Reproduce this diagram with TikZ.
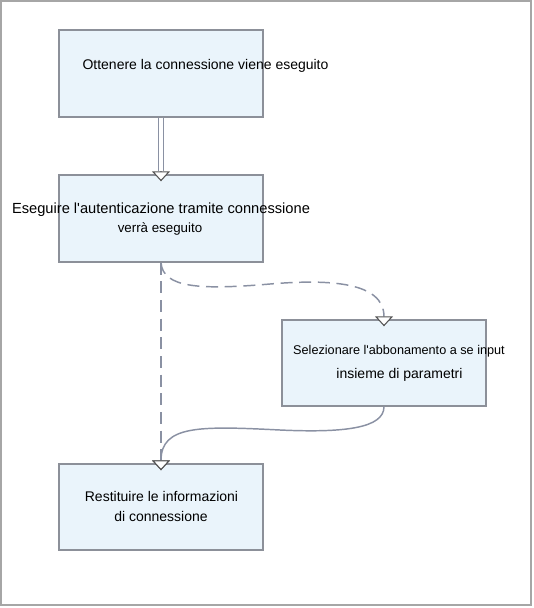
\documentclass[tikz,border=0pt]{standalone}
\usepackage{fontspec}
\setmainfont{Liberation Sans}
\usetikzlibrary{arrows.meta}
\definecolor{boxfill}{HTML}{EAF4FB}
\definecolor{boxline}{HTML}{8C9099}
\definecolor{conn}{HTML}{8A91A3}
\definecolor{tipc}{HTML}{555555}
\definecolor{framec}{HTML}{A6A6A6}
\begin{document}
\begin{tikzpicture}[x=0.75pt,y=-0.75pt,
 box/.style={draw=boxline, fill=boxfill, line width=1pt, minimum width=153pt, minimum height=65.25pt, inner sep=0pt},
 lbl/.style={anchor=base, inner sep=0pt, font=\fontsize{10.5pt}{12pt}\selectfont},
 conline/.style={draw=conn, line width=1.1pt},
 dsh/.style={conline, dash pattern=on 9pt off 5pt},
 tiparrow/.style={-{Triangle[length=7.5pt, width=13.5pt, color=tipc, fill=white, line width=0.8pt]}},
]
\useasboundingbox (0,0) rectangle (533,608);
\draw[framec, line width=0.9pt] (1,1) rectangle (531,605);

\node[box] (b1) at (161,73.5) {};
\node[box] (b2) at (161,218.5) {};
\node[box, minimum height=64.5pt] (b3) at (384,363) {};
\node[box, minimum height=64.5pt] (b4) at (161,507) {};

\node[lbl] (t1) at (205.5,69.5) {Ottenere la connessione viene eseguito};
\node[lbl, font=\fontsize{11pt}{12pt}\selectfont] (t2a) at (161,213) {Eseguire l\textquotesingle autenticazione tramite connessione};
\node[lbl, font=\fontsize{10pt}{12pt}\selectfont] (t2b) at (160,232.5) {verrà eseguito};
\node[lbl, font=\fontsize{9.5pt}{12pt}\selectfont] (t3a) at (399,354.5) {Selezionare l\textquotesingle abbonamento a se input};
\node[lbl] (t3b) at (399.5,378) {insieme di parametri};
\node[lbl] (t4a) at (161.5,501) {Restituire le informazioni};
\node[lbl] (t4b) at (161,521) {di connessione};

% double connector
\draw[draw=conn, line width=1pt, double=white, double distance=2.6pt] (b1.south) -- ([yshift=2.25pt]b2.north);
\draw[conline, tiparrow] ([yshift=2.25pt]b2.north) -- ([yshift=-5.25pt]b2.north);

% dashed straight
\draw[dsh, tiparrow] (b2.south) -- ([yshift=-5.25pt]b4.north);
% dashed curve
\draw[dsh, tiparrow] (b2.south) .. controls (163,288) and (200,290) .. (270,284) .. controls (330,279) and (384,282) .. ([yshift=-5.25pt]b3.north);
% solid curve
\draw[conline, tiparrow] (b3.south) .. controls (384,428) and (345,433) .. (280,430) .. controls (200,426) and (161,425) .. ([yshift=-5.25pt]b4.north);
\end{tikzpicture}
\end{document}
